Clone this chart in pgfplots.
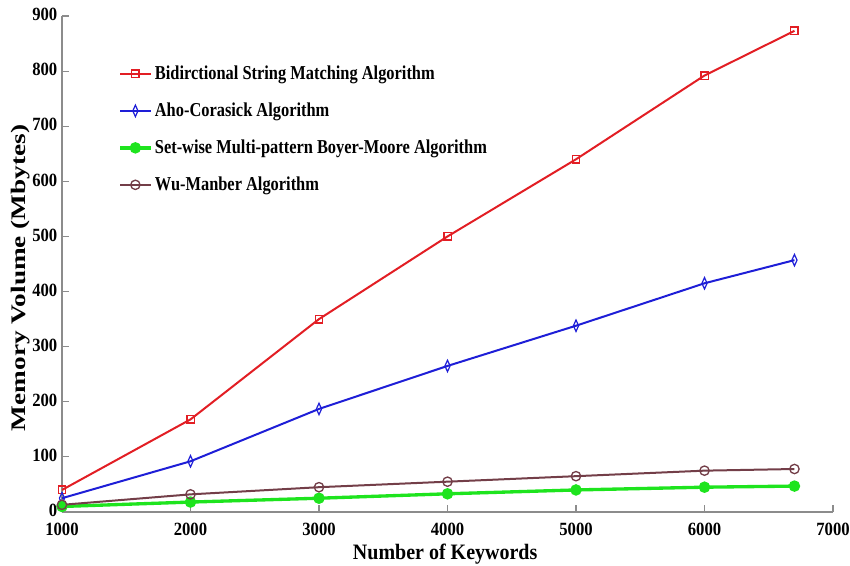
\documentclass[border=0pt]{standalone}
\usepackage{fontspec}
\setmainfont{Liberation Serif}
\usepackage{graphicx}
\usepackage{pgfplots}
\pgfplotsset{compat=1.18}
\definecolor{cred}{RGB}{226,30,36}
\definecolor{cblue}{RGB}{30,30,215}
\definecolor{cgreen}{RGB}{30,228,30}
\definecolor{cbrown}{RGB}{115,62,72}
\definecolor{caxis}{RGB}{140,140,140}
\begin{document}
\begin{tikzpicture}
\path[use as bounding box] (-46.5pt,-40.5pt) rectangle (591pt,384pt);
\begin{axis}[
  at={(0,0)}, anchor=south west,
  scale only axis, width=578.25pt, height=372pt,
  xmin=1000, xmax=7000, ymin=0, ymax=900,
  xtick={1000,2000,...,7000}, ytick={0,100,...,900},
  axis x line*=bottom, axis y line*=left,
  axis line style={caxis, line width=1pt},
  tick style={caxis, line width=0.8pt},
  tick align=inside, major tick length=5pt,
  /pgf/number format/1000 sep={},
  /pgf/number format/assume math mode=true,
  ticklabel style={font=\bfseries\fontsize{12.5}{14}\selectfont},
  xticklabel={\scalebox{1}[1.12]{\pgfmathprintnumber{\tick}}},
  yticklabel={\scalebox{1}[1.12]{\pgfmathprintnumber{\tick}}},
  xticklabel style={yshift=-4.5pt},
  yticklabel style={yshift=1pt},
  xlabel={\scalebox{1}[1.1]{Number of Keywords}},
  ylabel={\scalebox{1.32}[1]{Memory Volume (Mbytes)}},
  every axis x label/.style={at={(axis description cs:0.497,-0.096)}, anchor=base, font=\bfseries\fontsize{15}{18}\selectfont},
  every axis y label/.style={at={(axis description cs:-0.047,0.472)}, anchor=base, rotate=90, font=\bfseries\fontsize{15.5}{18}\selectfont},
  legend style={at={(axis description cs:0.073,0.905)}, anchor=north west, draw=none, fill=none,
    font=\bfseries\fontsize{12.3}{14}\selectfont, row sep=12pt, inner sep=0pt},
  legend cell align=left,
  legend image code/.code={\draw[mark repeat=2,mark phase=2] plot coordinates {(0cm,0cm) (0.4cm,0cm) (0.8cm,0cm)};},
]
\addplot[cred, line width=1.5pt, mark=square, mark size=2.8pt, mark options={line width=1.1pt}] coordinates {
(1000,40) (2000,168) (3000,350) (4000,500) (5000,640) (6000,792) (6700,873)};
\addlegendentry{\scalebox{1}[1.2]{Bidirctional String Matching Algorithm}}
\addplot[cblue, line width=1.5pt, mark=diamond, mark size=4.3pt, mark options={xscale=0.6, line width=0.9pt}] coordinates {
(1000,25) (2000,92) (3000,187) (4000,265) (5000,338) (6000,415) (6700,457)};
\addlegendentry{\scalebox{1}[1.2]{Aho-Corasick Algorithm}}
\addplot[cgreen, line width=2.5pt, mark=*, mark size=3pt] coordinates {
(1000,10) (2000,18) (3000,25) (4000,33) (5000,40) (6000,45) (6700,47)};
\addlegendentry{\scalebox{1}[1.2]{Set-wise Multi-pattern Boyer-Moore Algorithm}}
\addplot[cbrown, line width=1.5pt, mark=o, mark size=3.5pt, mark options={line width=1pt}] coordinates {
(1000,13) (2000,32) (3000,45) (4000,55) (5000,65) (6000,75) (6700,78)};
\addlegendentry{\scalebox{1}[1.2]{Wu-Manber Algorithm}}
\end{axis}
\end{tikzpicture}
\end{document}
